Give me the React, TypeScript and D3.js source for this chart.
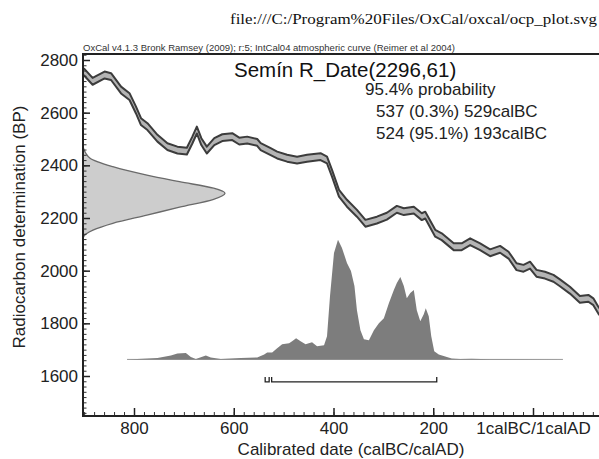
import React, { useEffect, useRef } from "react";
import * as d3 from "d3";

// IntCal04 curve centre line (cal BC, negative = AD)
const curveBC = [
  910, 900, 883, 859, 846, 826, 809, 796, 786, 773, 753, 733, 713, 694, 683, 674,
  665, 654, 639, 623, 603, 589, 573, 553, 546, 526, 513, 493, 473, 453, 426, 413,
  403, 389, 373, 353, 336, 313, 293, 273, 259, 239, 223, 216, 196, 183, 159, 143,
  126, 106, 86, 66, 49, 33, 19, 6, -7, -24, -41, -54, -74, -94, -111, -121, -131, -154,
];
const curveBP = [
  2760, 2754, 2719, 2743, 2737, 2686, 2661, 2610, 2566, 2547, 2503, 2471, 2458, 2454, 2496, 2534,
  2490, 2458, 2490, 2505, 2509, 2492, 2496, 2487, 2471, 2452, 2439, 2427, 2420, 2427, 2433, 2420,
  2370, 2294, 2256, 2218, 2180, 2192, 2207, 2233, 2224, 2230, 2205, 2211, 2142, 2129, 2091, 2091,
  2110, 2091, 2068, 2081, 2059, 2015, 2009, 2021, 1990, 1983, 1971, 1954, 1926, 1891, 1895, 1882, 1850, 1793,
];
const curveSigma = 13;

// R_Date(2296,61) shown on the y axis, relative height
const dateBP = [2470, 2427, 2395, 2363, 2338, 2313, 2294, 2271, 2241, 2211, 2180, 2154, 2129, 2116];
const dateProb = [0, 0.05, 0.21, 0.45, 0.68, 0.92, 1, 0.92, 0.68, 0.45, 0.21, 0.07, 0.004, 0];

// calibrated distribution, relative height
const postBC = [
  814, 753, 726, 713, 696, 686, 676, 656, 646, 626, 586, 553, 539, 533, 523, 513,
  503, 489, 483, 475, 466, 456, 443, 433, 419, 413, 407, 399, 391, 383, 373, 365,
  358, 353, 346, 339, 329, 319, 309, 299, 289, 279, 273, 266, 259, 253, 246, 239,
  233, 226, 219, 215, 209, 204, 198, 189, 176, 163, 146, 123, 86, -60,
];
const postProb = [
  0, 1.5, 4, 6, 6.5, 2.5, 0.5, 4, 2, 0.5, 1.5, 2, 5, 7, 7, 11,
  15, 16, 18, 21, 18, 15, 17, 13, 14, 23, 63, 106, 119, 111, 96, 88,
  73, 49, 29, 20, 19, 29, 36, 41, 56, 69, 76, 82, 73, 61, 66, 69,
  49, 38, 45, 51, 43, 23, 8, 5, 3, 1, 0.3, 0.6, 0.1, 0,
];

// 95.4% ranges (cal BC)
const rangeFrom = [537, 524];
const rangeTo = [529, 193];

const titleText = "Semín R_Date(2296,61)";
const probText = "95.4% probability";
const rangeTexts = ["537 (0.3%) 529calBC", "524 (95.1%) 193calBC"];

const xTickValues = [-800, -600, -400, -200, 0];
const xTickLabels = ["800", "600", "400", "200", "1calBC/1calAD"];
const yTickValues = [1600, 1800, 2000, 2200, 2400, 2600, 2800];

export default function App() {
  const ref = useRef<SVGSVGElement>(null);

  useEffect(() => {
    document.body.style.margin = "0";
    const svg = d3.select(ref.current);
    svg.selectAll("*").remove();

    const left = 83, right = 599, top = 54, bottom = 416;
    const font = "'Liberation Sans', Arial, sans-serif";
    const x = d3.scaleLinear().domain([-800, 0]).range([134, 533]);
    const y = d3.scaleLinear().domain([1600, 2800]).range([376, 60]);

    svg.append("text")
      .attr("x", 230).attr("y", 24)
      .attr("font-family", "'Liberation Serif', 'Times New Roman', serif")
      .attr("font-size", 14.5)
      .attr("textLength", 367).attr("lengthAdjust", "spacingAndGlyphs")
      .attr("fill", "#111")
      .text("file:///C:/Program%20Files/OxCal/oxcal/ocp_plot.svg");

    svg.append("defs").append("clipPath").attr("id", "plot")
      .append("rect")
      .attr("x", left).attr("y", top)
      .attr("width", right - left).attr("height", bottom - top);
    const plot = svg.append("g").attr("clip-path", "url(#plot)");

    // calibration curve band
    const cal = curveBC.map((bc, i) => ({ yr: -bc, bp: curveBP[i] }));
    plot.append("path")
      .datum(cal)
      .attr("d", d3.area<any>().x(d => x(d.yr)).y0(d => y(d.bp - curveSigma)).y1(d => y(d.bp + curveSigma)))
      .attr("fill", "#b4b4b4");
    [curveSigma, -curveSigma].forEach(s => {
      plot.append("path")
        .datum(cal)
        .attr("d", d3.line<any>().x(d => x(d.yr)).y(d => y(d.bp + s)))
        .attr("fill", "none")
        .attr("stroke", "#3c3c3c")
        .attr("stroke-width", 2)
        .attr("stroke-linejoin", "round");
    });

    // radiocarbon date on the y axis
    const w = d3.scaleLinear().domain([0, 1]).range([left, 225]);
    const dateData = dateBP.map((bp, i) => ({ bp, p: dateProb[i] }));
    plot.append("path")
      .datum(dateData)
      .attr("d", d3.area<any>().y(d => y(d.bp)).x0(left).x1(d => w(d.p)).curve(d3.curveMonotoneY))
      .attr("fill", "#cdcdcd")
      .attr("stroke", "#6a6a6a")
      .attr("stroke-width", 1.3);

    // calibrated distribution
    const baseBP = 1663;
    const h = d3.scaleLinear().domain([0, d3.max(postProb) as number]).range([y(baseBP), y(2117)]);
    plot.append("line")
      .attr("x1", x(-postBC[0])).attr("x2", x(-postBC[postBC.length - 1]))
      .attr("y1", y(baseBP)).attr("y2", y(baseBP))
      .attr("stroke", "#999").attr("stroke-width", 1);
    const post = postBC.map((bc, i) => ({ yr: -bc, p: postProb[i] }));
    plot.append("path")
      .datum(post)
      .attr("d", d3.area<any>().x(d => x(d.yr)).y0(y(baseBP)).y1(d => h(d.p)))
      .attr("fill", "#7d7d7d");

    // range bars
    const ry = y(baseBP) + 22.5;
    rangeFrom.forEach((f, i) => {
      const x0 = x(-f), x1 = x(-rangeTo[i]);
      plot.append("path")
        .attr("d", `M${x0},${ry - 5}V${ry}H${x1}V${ry - 5}`)
        .attr("fill", "none")
        .attr("stroke", "#222")
        .attr("stroke-width", 1.3);
    });

    // axes
    const yMinor = d3.range(1460, 2821, 20);
    svg.append("g")
      .attr("transform", `translate(${left},0)`)
      .call(d3.axisLeft(y).tickValues(yMinor).tickSize(-3.5).tickFormat(() => ""))
      .call(g => g.select(".domain").remove())
      .call(g => g.selectAll("line").attr("stroke", "#333"));
    svg.append("g")
      .attr("transform", `translate(${left},0)`)
      .call(d3.axisLeft(y).tickValues(yTickValues).tickSize(-7).tickPadding(5).tickFormat(d3.format("d")))
      .call(g => g.select(".domain").remove())
      .call(g => g.selectAll("line").attr("stroke", "#222").attr("stroke-width", 1.5))
      .call(g => g.selectAll("text").attr("font-family", font).attr("font-size", 17).attr("fill", "#222"));

    const xMinor = d3.range(-900, 141, 20);
    svg.append("g")
      .attr("transform", `translate(0,${bottom})`)
      .call(d3.axisBottom(x).tickValues(xMinor).tickSize(-4).tickFormat(() => ""))
      .call(g => g.select(".domain").remove())
      .call(g => g.selectAll("line").attr("stroke", "#333"));
    svg.append("g")
      .attr("transform", `translate(0,${bottom})`)
      .call(d3.axisBottom(x).tickValues(xTickValues).tickSize(-8).tickPadding(6)
        .tickFormat((d, i) => xTickLabels[i]))
      .call(g => g.select(".domain").remove())
      .call(g => g.selectAll("line").attr("stroke", "#222").attr("stroke-width", 1.5))
      .call(g => g.selectAll("text").attr("font-family", font).attr("font-size", 17).attr("fill", "#222"));

    // frame
    svg.append("path")
      .attr("d", `M${right},${top}H${left}V${bottom}H${right}`)
      .attr("fill", "none")
      .attr("stroke", "#222")
      .attr("stroke-width", 2);

    svg.append("text")
      .attr("x", left).attr("y", 51)
      .attr("font-family", font).attr("font-size", 9.5)
      .attr("textLength", 372).attr("lengthAdjust", "spacingAndGlyphs")
      .attr("fill", "#333")
      .text("OxCal v4.1.3 Bronk Ramsey (2009); r:5; IntCal04 atmospheric curve (Reimer et al 2004)");

    svg.append("text")
      .attr("x", 234).attr("y", 77)
      .attr("font-family", font).attr("font-size", 20.5).attr("fill", "#111")
      .text(titleText);
    svg.append("text")
      .attr("x", 365).attr("y", 95)
      .attr("font-family", font).attr("font-size", 17).attr("fill", "#222")
      .text(probText);
    rangeTexts.forEach((t, i) => {
      svg.append("text")
        .attr("x", 376).attr("y", 117 + i * 22)
        .attr("font-family", font).attr("font-size", 17).attr("fill", "#222")
        .text(t);
    });

    svg.append("text")
      .attr("x", 351).attr("y", 455)
      .attr("text-anchor", "middle")
      .attr("font-family", font).attr("font-size", 17).attr("fill", "#222")
      .text("Calibrated date (calBC/calAD)");
    svg.append("text")
      .attr("transform", "translate(25,227) rotate(-90)")
      .attr("text-anchor", "middle")
      .attr("font-family", font).attr("font-size", 17).attr("fill", "#222")
      .text("Radiocarbon determination (BP)");
  }, []);

  return <svg ref={ref} width={599} height={459} style={{ display: "block" }} />;
}
